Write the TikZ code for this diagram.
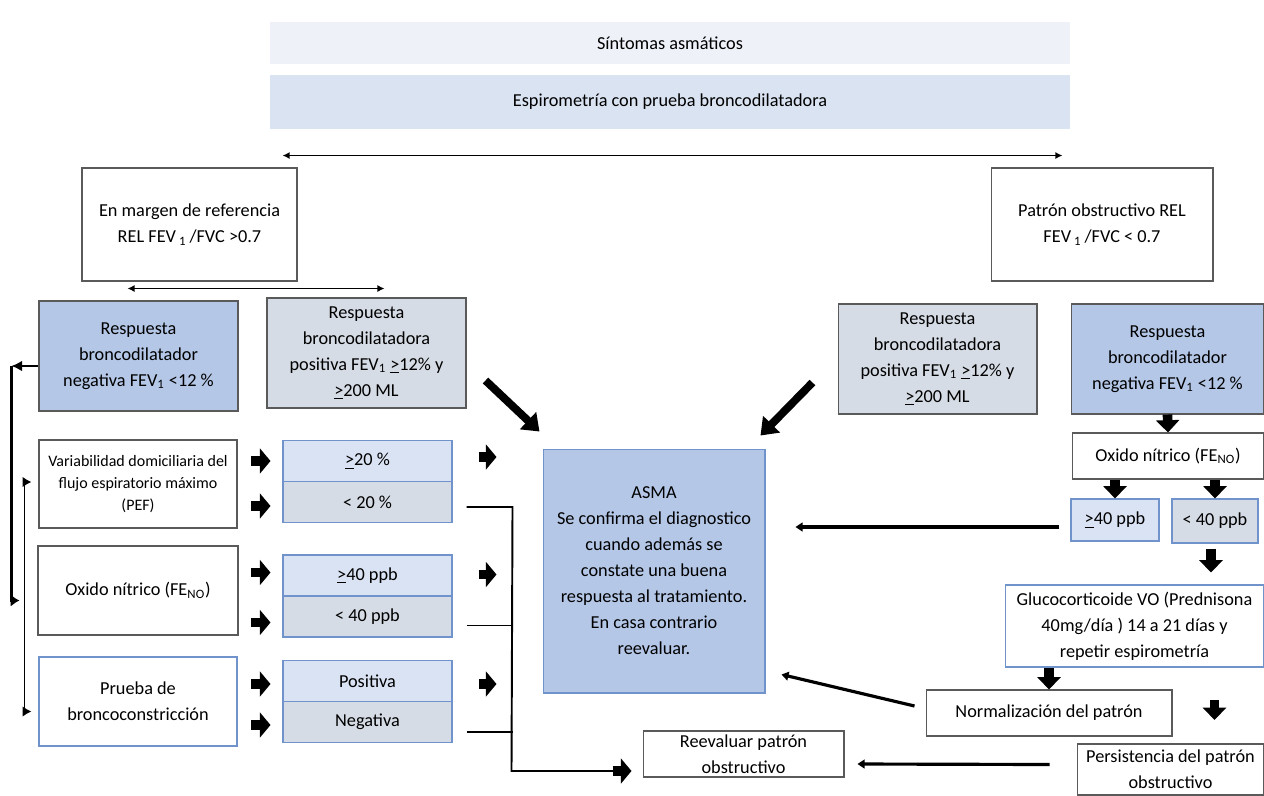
\documentclass[tikz,border=0pt]{standalone}
\usepackage{fontspec}
\setmainfont{Carlito}
\usepackage{xcolor}
\usepackage{tikz}
\usetikzlibrary{arrows.meta}
\usetikzlibrary{calc}
\usetikzlibrary{positioning}
\definecolor{fondo1}{HTML}{EEF1F8}
\definecolor{fondo2}{HTML}{DAE3F2}
\definecolor{azul}{HTML}{B4C7E7}
\definecolor{gris}{HTML}{D6DCE5}
\definecolor{celeste}{HTML}{DAE3F3}
\definecolor{bordeazul}{HTML}{7193CB}
\definecolor{bordegris}{HTML}{5A5A5A}

\begin{document}
\begin{tikzpicture}[-,auto,x=0.02cm,y=-0.02cm,node distance=0.82cm,semithick]
	\tikzstyle{caja}=[draw=bordegris, fill=white, align=center, inner sep=1pt, font=\fontsize{10.4}{14.8}\selectfont]
	\tikzstyle{cajaazul}=[caja, draw=bordeazul]
	\tikzstyle{pila}=[cajaazul, minimum width=3.38cm, minimum height=0.82cm]
	\tikzstyle{blk}=[line width=5.5pt, -{Triangle[length=6pt,width=14pt]}]
	\tikzstyle{blkv}=[line width=5.5pt, -{Triangle[length=7pt,width=13pt]}]
	\tikzstyle{grueso}=[line width=4.5pt, -{Triangle[length=9pt,width=13pt]}]
	\tikzstyle{medio}=[line width=1.8pt, -{Triangle[length=4pt,width=5pt]}]
	\tikzstyle{doble}=[line width=1pt, {Latex[length=4pt,width=4pt]}-{Latex[length=4pt,width=4pt]}]
	\tikzstyle{linea}=[line width=1.1pt]
	\useasboundingbox (0,0) rectangle (1264,795);
		\node[caja, draw=none, fill=fondo1, minimum width=16cm, minimum height=0.84cm] (1) at (670,43) {Síntomas asmáticos};
		\node[caja, draw=none, fill=fondo2, minimum width=16cm, minimum height=1.08cm] (2) at (670,102) {Espirometría con prueba broncodilatadora};
		\node[caja, minimum width=4.3cm, minimum height=2.26cm] (3) at (189.5,224.5) {En margen de referencia\\REL FEV\,\textsubscript{1}\,/FVC >0.7};
		\node[caja, minimum width=4.44cm, minimum height=2.26cm] (4) at (1102,224.5) {Patrón obstructivo REL\\FEV\,\textsubscript{1}\,/FVC < 0.7};
		\node[caja, fill=azul, minimum width=3.98cm, minimum height=2.2cm] (5) at (138.5,356) {Respuesta\\broncodilatador\\negativa FEV\textsubscript{1} <12 \%};
		\node[caja, fill=gris, minimum width=3.98cm, minimum height=2.2cm] (6) at (366.5,353) {Respuesta\\broncodilatadora\\positiva FEV\textsubscript{1} \underline{>}12\% y\\\underline{>}200 ML};
		\node[caja, fill=gris, minimum width=3.98cm, minimum height=2.2cm] (7) at (937.5,359) {Respuesta\\broncodilatadora\\positiva FEV\textsubscript{1} \underline{>}12\% y\\\underline{>}200 ML};
		\node[caja, fill=azul, minimum width=3.86cm, minimum height=2.2cm] (8) at (1167.5,359) {Respuesta\\broncodilatador\\negativa FEV\textsubscript{1} <12 \%};
		\node[caja, minimum width=3.84cm, minimum height=0.92cm] (9) at (1168,456) {Oxido nítrico (FE\textsubscript{NO})};
		\node[cajaazul, fill=celeste, minimum width=1.76cm, minimum height=0.84cm] (10) at (1115,520) {\underline{>}40 ppb};
		\node[cajaazul, fill=gris, minimum width=1.72cm, minimum height=0.88cm] (11) at (1215,521) {< 40 ppb};
		\node[cajaazul, minimum width=5.18cm, minimum height=1.64cm] (12) at (1134.5,626) {Glucocorticoide VO (Prednisona\\40mg/día ) 14 a 21 días y\\repetir espirometría};
		\node[caja, minimum width=4.92cm, minimum height=0.92cm] (13) at (1049,713) {Normalización del patrón};
		\node[caja, minimum width=3.74cm, minimum height=1.02cm] (14) at (1170.5,769.5) {Persistencia del patrón\\obstructivo};
		\node[caja, minimum width=4.02cm, minimum height=0.92cm] (15) at (743.5,754) {Reevaluar patrón\\obstructivo};
		\node[cajaazul, fill=azul, minimum width=4.44cm, minimum height=4.88cm] (16) at (654,571) {ASMA\\Se confirma el diagnostico\\cuando además se\\constate una buena\\respuesta al tratamiento.\\En casa contrario\\reevaluar.};
		\node[caja, font=\fontsize{9.1}{12.7}\selectfont, minimum width=3.96cm, minimum height=1.76cm] (17) at (138,484) {Variabilidad domiciliaria del\\flujo espiratorio máximo\\(PEF)};
		\node[caja, minimum width=4cm, minimum height=1.78cm] (18) at (138,590.5) {Oxido nítrico (FE\textsubscript{NO})};
		\node[cajaazul, minimum width=3.96cm, minimum height=1.78cm] (19) at (138,701.5) {Prueba de\\broncoconstricción};
		\node[pila, fill=celeste] (20) at (367.5,461) {\underline{>}20 \%};
		\node[pila, fill=gris] (21) [below of=20] {< 20 \%};
		\node[pila, fill=celeste] (22) at (367.5,575.5) {\underline{>}40 ppb};
		\node[pila, fill=gris] (23) [below of=22] {< 40 ppb};
		\node[pila, fill=celeste] (24) at (367.5,681) {Positiva};
		\node[pila, fill=gris] (25) [below of=24] {Negativa};
		\draw[doble] ($(2.south west)+(13,26)$) -- ($(2.south east)+(-8,26)$);
		\draw[doble] ($(3.south west)+(46,7)$) -- ($(3.south west)+(303,7)$);
		\draw[grueso] ($(6.south east)+(19,-28)$) -- ($(16.north west)+(-3,-17)$);
		\draw[grueso] ($(7.south west)+(-25,-32)$) -- ($(16.north east)+(-5,-13)$);
		\draw[blkv] (8.south) -- (9.north);
		\draw[blkv] (9.south -| 10.north) -- (10.north);
		\draw[blkv] (9.south -| 11.north) -- (11.north);
		\draw[blkv] ($(11.south)+(-4,5)$) -- ($(11.south)+(-4,29)$);
		\draw[blkv] (12.south -| 13.north) -- (13.north);
		\draw[blkv] ($(13.east)+(42,-13)$) -- ($(13.east)+(42,7)$);
		\draw[medio] ($(10.west)+(-11,7)$) -- ($(10.west)+(-275,7)$);
		\draw[medio] ($(13.west)+(-11,-7)$) -- ($(16.south east)+(16,-19)$);
		\draw[medio] ($(14.west)+(-27,-5)$) -- ($(15.east)+(13,10)$);
		\draw[blk] ($(20.west)+(-31,0)$) -- ($(20.west)+(-12,0)$);
		\draw[blk] ($(21.west)+(-31,4)$) -- ($(21.west)+(-12,4)$);
		\draw[blk] ($(22.west)+(-31,-3)$) -- ($(22.west)+(-12,-3)$);
		\draw[blk] ($(23.west)+(-31,6)$) -- ($(23.west)+(-12,6)$);
		\draw[blk] ($(24.west)+(-31,3)$) -- ($(24.west)+(-12,3)$);
		\draw[blk] ($(25.west)+(-31,3)$) -- ($(25.west)+(-12,3)$);
		\draw[blk] ($(20.east)+(26,-4)$) -- ($(20.east)+(44,-4)$);
		\draw[blk] ($(22.east)+(26,-1)$) -- ($(22.east)+(44,-1)$);
		\draw[blk] ($(24.east)+(26,3)$) -- ($(24.east)+(44,3)$);
		\coordinate (a) at ($(21.east)+(60,5)$);
		\coordinate (b) at ($(15.west)+(-131,17)$);
		\draw[linea] ($(21.east)+(14,5)$) -- (a) -- (b) -- ($(15.west)+(-22,17)$);
		\draw[blk] ($(15.west)+(-30,17)$) -- ($(15.west)+(-11,17)$);
		\draw[linea] ($(23.east)+(14,9)$) -- ($(23.east)+(60,9)$);
		\draw[linea] ($(25.east)+(14,10)$) -- ($(25.east)+(60,10)$);
		\draw[line width=0.8pt, -{Latex[length=6pt,width=6pt]}] ($(5.west)+(0,10)$) -- ($(5.west)+(-27,10)$);
		\draw[line width=2pt, -{Latex[length=5pt,width=7pt]}] ($(5.west)+(-27,10)$) -- ($(18.west)+(-26,10)$) -- ($(18.west)+(-18,10)$);
		\draw[line width=1pt, {Latex[length=5pt,width=6pt]}-{Latex[length=5pt,width=6pt]}] ($(17.west)+(-7,-2)$) -- ($(17.west)+(-14,-2)$) -- ($(19.west)+(-14,10)$) -- ($(19.west)+(-7,10)$);
\end{tikzpicture}
\end{document}
